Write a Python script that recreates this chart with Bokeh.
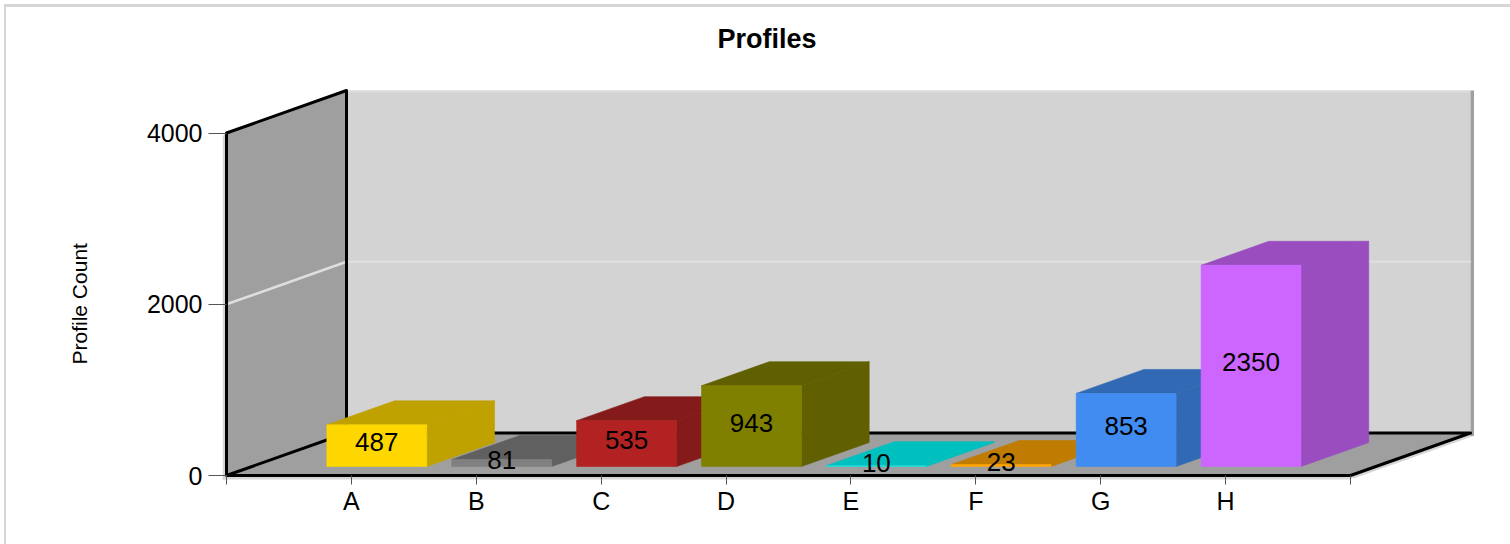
from bokeh.plotting import figure
from bokeh.models import ColumnDataSource, FixedTicker, Range1d, Title
from bokeh.core.properties import value
from bokeh.embed import file_html
from bokeh.resources import INLINE

# ---- data
categories = ["A", "B", "C", "D", "E", "F", "G", "H"]
counts = [487, 81, 535, 943, 10, 23, 853, 2350]
y_ticks = [0, 2000, 4000]
front_colors = ["#ffd700", "#808080", "#b22222", "#808000", "#1fe0e0", "#ffa500", "#418cf0", "#cc66ff"]
side_colors = ["#bfa100", "#606060", "#851a1a", "#606000", "#00bfbf", "#bf7c00", "#3169b4", "#994dbf"]

# ---- layout, in page pixels
OX, OY = 6, 7                # where the canvas starts on the page
FL, FR, FT, FB = 222, 1474, 53, 480   # frame
X0, Y0 = 226, 475                # page position of data (0,0)
SX = 1124 / 9                # px per category
SY = 342.5 / 4000            # px per count
DX, DY = 120 / SX, 42.5 / SY # full depth of the box in data units
Z0, Z1 = 9 / 42.5, 33 / 42.5 # depth span of the bars
BAR = 0.8
XMAX = 9
YMAX = 4000
PXX, PXY = 1 / SX, 1 / SY

p = figure(
    width=1510 - 4, height=544 - 4,
    frame_width=FR - FL, frame_height=FB - FT,
    x_range=Range1d((FL - X0) / SX, (FR - X0) / SX),
    y_range=Range1d((Y0 - FB) / SY, (Y0 - FT) / SY),
    output_backend="svg", toolbar_location=None,
    min_border_left=FL - OX, min_border_top=FT - OY,
    min_border_right=1510 - FR, min_border_bottom=544 - FB,
    background_fill_color="white", border_fill_color="white",
    outline_line_color=None,
    margin=(4, 0, 0, 4),
)
p.styles = {"border-top": "3px solid #d6d6d6", "border-left": "2px solid #d6d6d6"}
p.grid.visible = False


def at(x, y, z=0.0):
    return x + z * DX, y + z * DY


def poly(points, color):
    p.patch([q[0] for q in points], [q[1] for q in points], fill_color=color, line_color=None)


# shadows round the box
poly([(-4 * PXX, -4 * PXY), (0, -4 * PXY), (0, YMAX), (-4 * PXX, YMAX - 3 * PXY)], "#d6d6d6")
poly([(-4 * PXX, 0), (XMAX, 0), (XMAX + 3 * PXX, -1 * PXY), (XMAX, -4 * PXY), (-4 * PXX, -4 * PXY)], "#d6d6d6")
poly([at(XMAX, 0), at(XMAX, 0, 1), at(XMAX + 3 * PXX, -3 * PXY, 1), at(XMAX + 3 * PXX, -3 * PXY)], "#d6d6d6")

# walls and floor
poly([at(0, 0, 1), at(XMAX, 0, 1), at(XMAX, YMAX, 1), at(0, YMAX, 1)], "#d3d3d3")
poly([at(0, YMAX, 1), at(XMAX, YMAX, 1), at(XMAX, YMAX - 2 * PXY, 1), at(0, YMAX - 2 * PXY, 1)], "#dcdcdc")
poly([at(XMAX, -3 * PXY, 1), at(XMAX + 3.5 * PXX, -3 * PXY, 1), at(XMAX + 3.5 * PXX, YMAX, 1), at(XMAX, YMAX, 1)], "#a0a0a0")
poly([at(0, 0), at(0, YMAX), at(0, YMAX, 1), at(0, 0, 1)], "#9f9f9f")
poly([at(0, 0), at(XMAX, 0), at(XMAX, 0, 1), at(0, 0, 1)], "#9f9f9f")

# grid line at 2000
for t in y_ticks[1:-1]:
    a, b, c = at(0, t), at(0, t, 1), at(XMAX, t, 1)
    p.line([a[0], b[0], c[0]], [a[1], b[1], c[1]], line_color="#dedede", line_width=2.6)

# box outline
for pts in ([at(0, 0), at(0, YMAX), at(0, YMAX, 1), at(0, 0, 1), at(0, 0), at(XMAX, 0), at(XMAX, 0, 1), at(0, 0, 1)],):
    p.line([q[0] for q in pts], [q[1] for q in pts], line_color="black", line_width=3, line_join="round")

# bars
xs, ys, cols = [], [], []
for i, v in enumerate(counts):
    c = i + 1
    l, r = c - BAR / 2, c + BAR / 2
    # top
    t = [at(l, v, Z0), at(r, v, Z0), at(r, v, Z1), at(l, v, Z1)]
    # side
    s = [at(r, 0, Z0), at(r, v, Z0), at(r, v, Z1), at(r, 0, Z1)]
    # front
    f = [at(l, 0, Z0), at(r, 0, Z0), at(r, v, Z0), at(l, v, Z0)]
    for pts, col in ((t, side_colors[i]), (s, side_colors[i]), (f, front_colors[i])):
        xs.append([q[0] for q in pts])
        ys.append([q[1] for q in pts])
        cols.append(col)
p.patches(xs="xs", ys="ys", fill_color="cols", line_color="cols", line_width=0.6,
          source=ColumnDataSource(dict(xs=xs, ys=ys, cols=cols)))

lab = ColumnDataSource(dict(
    x=[at(i + 1, 0, Z0)[0] for i in range(len(counts))],
    y=[at(0, v / 2 + 3.5 * PXY, Z0)[1] for v in counts],
    t=[str(v) for v in counts],
))
p.text(x="x", y="y", text="t", source=lab, text_align="center", text_baseline="middle",
       text_font=value("Liberation Sans"), text_font_size="26px", text_color="black")

# axes
yax = p.yaxis[0]
yax.ticker = FixedTicker(ticks=y_ticks)
yax.axis_line_color = None
yax.major_tick_line_color = "#555555"
yax.major_tick_out = 14
yax.major_tick_in = 4
yax.minor_tick_line_color = None
yax.major_label_text_font = "Liberation Sans"
yax.major_label_text_font_size = "25px"
yax.major_label_text_color = "black"
yax.major_label_standoff = 6
yax.formatter.use_scientific = False

xax = p.xaxis[0]
xax.ticker = FixedTicker(ticks=list(range(XMAX + 1)))
xax.major_label_overrides = {0: "", XMAX: "", **{i + 1: n for i, n in enumerate(categories)}}
xax.axis_line_color = None
xax.major_tick_line_color = "#555555"
xax.major_tick_out = 4
xax.major_tick_in = 5
xax.minor_tick_line_color = None
xax.major_label_text_font = "Liberation Sans"
xax.major_label_text_font_size = "25px"
xax.major_label_text_color = "black"
xax.major_label_standoff = 2

# title
p.title = Title(text="Profiles", align="left", offset=717 - FL, standoff=0,
                text_font="Liberation Sans", text_font_size="27px", text_font_style="bold",
                text_color="black")

# y axis caption
p.add_layout(Title(text="Profile Count", align="left", offset=FB - 364, standoff=106,
                   text_font="Liberation Sans", text_font_size="21px", text_font_style="normal",
                   text_color="black"), "left")

open("out.html", "w").write(file_html(p, INLINE))
